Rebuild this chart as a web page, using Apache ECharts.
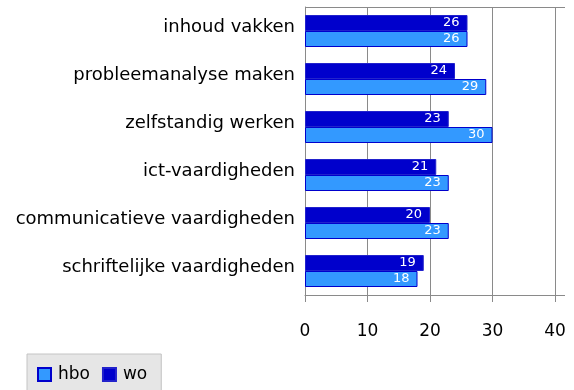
<!DOCTYPE html>
<html>
<head>
<meta charset="utf-8">
<script src="https://cdn.jsdelivr.net/npm/echarts@6/dist/echarts.min.js"></script>
<style>
  html, body { margin: 0; padding: 0; background: #fff; }
  #chart { width: 574px; height: 390px; }
</style>
</head>
<body>
<div id="chart"></div>
<script>
// Skills rated by hbo and wo graduates
const categories = [
  'inhoud vakken',
  'probleemanalyse maken',
  'zelfstandig werken',
  'ict-vaardigheden',
  'communicatieve vaardigheden',
  'schriftelijke vaardigheden'
];
const woValues = [26, 24, 23, 21, 20, 19];
const hboValues = [26, 29, 30, 23, 23, 18];
const xTicks = [0, 10, 20, 30, 40];

const FONT = 'DejaVu Sans';
const GRID_COLOR = '#8a8a8a';

const chart = echarts.init(document.getElementById('chart'));

const valueLabel = {
  show: true,
  position: 'insideRight',
  color: '#ffffff',
  fontFamily: FONT,
  fontSize: 13,
  distance: 8
};

chart.setOption({
  animation: false,
  grid: { left: 305, right: 19, top: 7, bottom: 95, containLabel: false },
  xAxis: {
    type: 'value',
    min: xTicks[0],
    max: xTicks[xTicks.length - 1],
    interval: 10,
    axisLine: { show: true, lineStyle: { color: GRID_COLOR, width: 1 } },
    axisTick: { show: true, length: 7, lineStyle: { color: GRID_COLOR } },
    splitLine: { show: true, lineStyle: { color: GRID_COLOR, width: 1 } },
    axisLabel: { color: '#000', fontFamily: FONT, fontSize: 17, margin: 28 }
  },
  yAxis: {
    type: 'category',
    inverse: true,
    data: categories,
    axisLine: { show: true, lineStyle: { color: GRID_COLOR, width: 1 } },
    axisTick: { show: false },
    axisLabel: { color: '#000', fontFamily: FONT, fontSize: 18, margin: 10, verticalAlign: 'bottom', lineHeight: 8 }
  },
  legend: {
    left: 27,
    top: 354,
    data: ['hbo', 'wo'],
    orient: 'horizontal',
    backgroundColor: '#e6e6e6',
    borderColor: '#c4c4c4',
    borderWidth: 1,
    borderRadius: 0,
    padding: [12, 14, 12, 10],
    itemGap: 12,
    itemWidth: 13,
    itemHeight: 13,
    icon: 'rect',
    textStyle: { color: '#000', fontFamily: FONT, fontSize: 17, padding: [0, 0, 0, 2] }
  },
  series: [
    {
      name: 'wo',
      type: 'bar',
      data: woValues,
      barWidth: 16,
      barGap: '0%',
      itemStyle: { color: '#0000cc', borderColor: '#2222cc', borderWidth: 1 },
      label: valueLabel
    },
    {
      name: 'hbo',
      type: 'bar',
      data: hboValues,
      barWidth: 16,
      barGap: '0%',
      itemStyle: { color: '#3399ff', borderColor: '#0000cc', borderWidth: 1 },
      label: valueLabel
    }
  ]
});

// Plot frame: top edge and axis run a little past the last grid line
const xStart = chart.convertToPixel({ xAxisIndex: 0 }, xTicks[0]);
const xEnd = chart.convertToPixel({ xAxisIndex: 0 }, xTicks[xTicks.length - 1]);
const frameTop = 7.5, frameBottom = 390 - 95 + 0.5;
chart.setOption({
  graphic: [
    { type: 'line', silent: true, shape: { x1: xStart, y1: frameTop, x2: xEnd + 10, y2: frameTop },
      style: { stroke: GRID_COLOR, lineWidth: 1 } },
    { type: 'line', silent: true, shape: { x1: xEnd, y1: frameBottom, x2: xEnd + 10, y2: frameBottom },
      style: { stroke: GRID_COLOR, lineWidth: 1 } }
  ]
});
</script>
</body>
</html>
